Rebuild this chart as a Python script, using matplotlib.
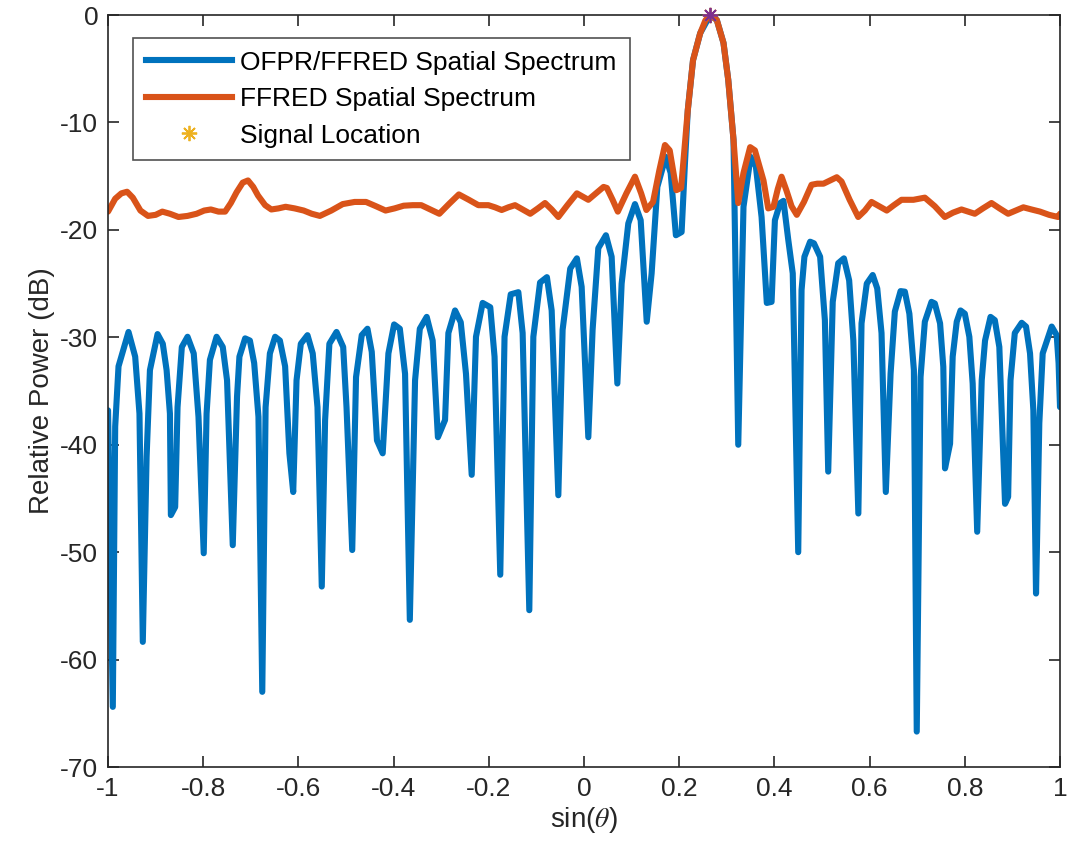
import matplotlib

matplotlib.use("Agg")

import matplotlib.pyplot as plt
from matplotlib.lines import Line2D
import numpy as np

# OFPR/FFRED spatial spectrum (blue)
blue_x = [
    -1.000, -0.990, -0.985, -0.978, -0.957, -0.943, -0.934, -0.927, -0.919, -0.912,
    -0.896, -0.885, -0.877, -0.870, -0.868, -0.859, -0.854, -0.845, -0.833, -0.820,
    -0.810, -0.799, -0.793, -0.786, -0.772, -0.759, -0.750, -0.738, -0.729, -0.724,
    -0.712, -0.702, -0.693, -0.684, -0.676, -0.669, -0.660, -0.649, -0.639, -0.628,
    -0.619, -0.611, -0.604, -0.595, -0.581, -0.570, -0.560, -0.551, -0.544, -0.535,
    -0.520, -0.506, -0.499, -0.487, -0.479, -0.467, -0.455, -0.446, -0.435, -0.423,
    -0.411, -0.399, -0.387, -0.376, -0.366, -0.355, -0.345, -0.3305, -0.318, -0.307,
    -0.292, -0.285, -0.271, -0.259, -0.248, -0.236, -0.227, -0.213, -0.197, -0.188,
    -0.176, -0.167, -0.154, -0.138, -0.129, -0.115, -0.1065, -0.0924, -0.078, -0.068,
    -0.054, -0.045, -0.029, -0.015, -0.005, 0.009, 0.018, 0.030, 0.046, 0.058,
    0.070, 0.079, 0.093, 0.107, 0.119, 0.1317, 0.142, 0.154, 0.1716, 0.182,
    0.193, 0.205, 0.212, 0.218, 0.229, 0.244, 0.265, 0.279, 0.293, 0.303,
    0.314, 0.324, 0.335, 0.350, 0.361, 0.373, 0.384, 0.394, 0.401, 0.412,
    0.419, 0.429, 0.4385, 0.450, 0.457, 0.463, 0.475, 0.483, 0.496, 0.506,
    0.513, 0.5225, 0.534, 0.546, 0.557, 0.5658, 0.5763, 0.583, 0.594, 0.6065,
    0.616, 0.625, 0.634, 0.644, 0.653, 0.665, 0.674, 0.6835, 0.693, 0.699,
    0.707, 0.716, 0.730, 0.737, 0.748, 0.7548, 0.7584, 0.769, 0.7745, 0.783,
    0.791, 0.800, 0.8095, 0.8165, 0.826, 0.8355, 0.8425, 0.854, 0.863, 0.8725,
    0.8845, 0.891, 0.896, 0.905, 0.9195, 0.9286, 0.937, 0.944, 0.9496, 0.9565,
    0.9636, 0.9825, 0.993, 0.997, 1.000,
]
blue_db = [
    -36.8, -64.4, -38.3, -32.7, -29.5, -31.8, -37.1, -58.35, -41.1, -33.05,
    -29.7, -30.6, -33.05, -37.1, -46.55, -45.8, -36.5, -30.9, -29.95, -31.5,
    -37.4, -50.1, -37.1, -32.1, -29.95, -30.9, -34.0, -49.35, -35.5, -31.8,
    -30.1, -30.3, -32.4, -37.4, -63.0, -36.5, -31.5, -29.95, -30.3, -32.7,
    -40.8, -44.4, -34.0, -30.6, -29.8, -31.5, -36.5, -53.2, -37.7, -30.6,
    -29.5, -30.9, -36.5, -49.8, -33.7, -29.8, -29.2, -31.35, -39.6, -40.8,
    -31.5, -28.8, -29.2, -33.4, -56.3, -34.0, -29.2, -28.1, -30.3, -39.3,
    -37.7, -29.6, -27.5, -28.6, -33.4, -42.8, -29.95, -26.8, -27.2, -31.8,
    -52.1, -29.95, -26.0, -25.8, -29.6, -55.4, -29.95, -24.9, -24.4, -27.5,
    -44.7, -29.3, -23.6, -22.65, -25.3, -39.3, -29.3, -21.7, -20.5, -22.5,
    -34.3, -25.0, -19.4, -17.6, -19.1, -28.55, -24.05, -16.0, -13.2, -14.7,
    -20.5, -20.2, -13.8, -8.85, -4.2, -1.7, 0.0, -0.47, -2.6, -6.05,
    -11.6, -40.0, -17.85, -13.2, -14.1, -18.8, -26.8, -26.7, -19.1, -17.5,
    -17.3, -20.9, -24.05, -50.0, -25.6, -22.5, -21.1, -21.25, -22.5, -28.4,
    -42.5, -26.7, -23.1, -22.65, -24.7, -30.3, -46.4, -28.7, -25.0, -24.2,
    -25.45, -29.6, -44.4, -33.4, -27.6, -25.7, -25.75, -27.8, -33.05, -66.7,
    -33.7, -28.55, -26.7, -26.85, -28.7, -32.75, -42.2, -39.9, -31.8, -28.55,
    -27.5, -27.8, -29.95, -34.3, -48.1, -34.0, -30.3, -28.1, -28.4, -30.9,
    -45.5, -44.85, -34.0, -29.6, -28.65, -29.0, -31.5, -36.8, -53.85, -38.0,
    -31.5, -29.0, -29.8, -32.4, -36.5,
]

# FFRED spatial spectrum (orange)
orange_x = [
    -1.000, -0.985, -0.972, -0.960, -0.948, -0.932, -0.916, -0.900, -0.886, -0.870,
    -0.852, -0.833, -0.814, -0.798, -0.784, -0.768, -0.754, -0.742, -0.730, -0.717,
    -0.706, -0.695, -0.685, -0.670, -0.657, -0.642, -0.627, -0.608, -0.589, -0.572,
    -0.555, -0.531, -0.507, -0.482, -0.458, -0.437, -0.417, -0.398, -0.379, -0.360,
    -0.342, -0.323, -0.304, -0.284, -0.263, -0.242, -0.222, -0.201, -0.187, -0.173,
    -0.159, -0.145, -0.129, -0.113, -0.097, -0.082, -0.068, -0.054, -0.035, -0.015,
    -0.003, 0.009, 0.025, 0.041, 0.048, 0.060, 0.071, 0.089, 0.107, 0.120,
    0.131, 0.145, 0.158, 0.170, 0.180, 0.194, 0.204, 0.218, 0.229, 0.244,
    0.255, 0.265, 0.279, 0.293, 0.303, 0.314, 0.324, 0.335, 0.349, 0.359,
    0.368, 0.377, 0.387, 0.398, 0.407, 0.415, 0.425, 0.436, 0.447, 0.462,
    0.478, 0.490, 0.503, 0.517, 0.531, 0.541, 0.558, 0.576, 0.590, 0.604,
    0.620, 0.636, 0.651, 0.667, 0.680, 0.692, 0.704, 0.716, 0.737, 0.758,
    0.775, 0.793, 0.807, 0.821, 0.838, 0.856, 0.873, 0.891, 0.907, 0.923,
    0.940, 0.958, 0.977, 0.996, 1.000,
]
orange_db = [
    -18.3, -17.1, -16.6, -16.45, -17.0, -18.2, -18.7, -18.6, -18.3, -18.5,
    -18.8, -18.7, -18.5, -18.2, -18.1, -18.3, -18.3, -17.5, -16.5, -15.6,
    -15.4, -16.0, -16.8, -17.7, -18.1, -18.0, -17.85, -18.0, -18.2, -18.5,
    -18.7, -18.2, -17.6, -17.4, -17.4, -17.8, -18.2, -18.0, -17.75, -17.7,
    -17.7, -18.1, -18.5, -17.6, -16.7, -17.2, -17.7, -17.7, -17.9, -18.15,
    -17.9, -17.7, -18.1, -18.5, -18.0, -17.5, -18.1, -18.8, -17.7, -16.6,
    -16.9, -17.2, -16.6, -16.0, -16.1, -17.2, -18.3, -16.6, -15.05, -16.6,
    -18.15, -17.4, -14.5, -12.1, -12.6, -16.3, -16.1, -8.85, -4.2, -1.7,
    -0.5, 0.0, -0.47, -2.6, -6.05, -11.6, -17.5, -14.7, -12.3, -12.6,
    -14.0, -15.4, -18.0, -17.85, -16.2, -15.05, -16.3, -17.8, -18.6, -17.4,
    -15.8, -15.7, -15.7, -15.4, -15.1, -15.5, -17.2, -18.8, -18.2, -17.4,
    -17.8, -18.2, -17.7, -17.2, -17.2, -17.2, -17.1, -17.0, -17.8, -18.8,
    -18.4, -18.1, -18.3, -18.5, -18.0, -17.5, -18.0, -18.5, -18.2, -17.9,
    -18.1, -18.3, -18.6, -18.8, -18.5,
]

signal_x = [0.265]
signal_db = [0.0]

x_ticks = [-1, -0.8, -0.6, -0.4, -0.2, 0, 0.2, 0.4, 0.6, 0.8, 1]
x_tick_labels = ["-1", "-0.8", "-0.6", "-0.4", "-0.2", "0", "0.2", "0.4", "0.6", "0.8", "1"]
y_ticks = [-70, -60, -50, -40, -30, -20, -10, 0]

BLUE = "#0072BD"
ORANGE = "#D95319"
YELLOW = "#EDB120"
PURPLE = "#7E2F8E"
AXIS_COLOR = "#262626"

plt.rcParams["font.family"] = ["Liberation Sans", "DejaVu Sans"]
plt.rcParams["axes.unicode_minus"] = False
plt.rcParams["mathtext.fontset"] = "stix"

asterisk = (8, 2, 0)
line_kw = dict(linewidth=4.4, solid_joinstyle="round", solid_capstyle="round")

fig = plt.figure(figsize=(10.73, 8.63), dpi=100)
ax = fig.add_axes([0.1007, 0.1112, 0.8872, 0.8714])

ax.plot(blue_x, blue_db, color=BLUE, label="OFPR/FFRED Spatial Spectrum", **line_kw)
ax.plot(orange_x, orange_db, color=ORANGE, label="FFRED Spatial Spectrum", **line_kw)
ax.plot(signal_x, signal_db, linestyle="none", marker=asterisk, markersize=11,
        markeredgewidth=1.3, color=YELLOW, clip_on=False, zorder=5,
        label="Signal Location")
ax.plot(signal_x, signal_db, linestyle="none", marker=asterisk, markersize=11,
        markeredgewidth=1.3, color=PURPLE, clip_on=False, zorder=6)

ax.set_xlim(-1, 1)
ax.set_ylim(-70, 0)
ax.set_xticks(x_ticks)
ax.set_xticklabels(x_tick_labels)
ax.set_yticks(y_ticks)
ax.tick_params(direction="in", length=8, width=1.2, colors=AXIS_COLOR,
               labelsize=19, top=True, right=True)
ax.tick_params(axis="x", pad=7)
ax.tick_params(axis="y", pad=7)
for spine in ax.spines.values():
    spine.set_color(AXIS_COLOR)
    spine.set_linewidth(1.2)

ax.set_xlabel(r"sin($\theta$)", fontsize=20, color=AXIS_COLOR, labelpad=3)
ax.set_ylabel("Relative Power (dB)", fontsize=20, color=AXIS_COLOR, labelpad=4)

handles = [
    Line2D([], [], color=BLUE, linewidth=4.4),
    Line2D([], [], color=ORANGE, linewidth=4.4),
    Line2D([], [], linestyle="none", marker=asterisk, markersize=11,
           markeredgewidth=1.3, color=YELLOW),
]
labels = ["OFPR/FFRED Spatial Spectrum", "FFRED Spatial Spectrum", "Signal Location"]
legend = ax.legend(handles, labels, loc="upper left", bbox_to_anchor=(0.0263, 0.9694),
                   fontsize=19, frameon=True, fancybox=False, handlelength=3.25,
                   handletextpad=0.34, labelspacing=0.47, borderpad=0.48,
                   borderaxespad=0.0)
legend.get_frame().set_edgecolor(AXIS_COLOR)
legend.get_frame().set_linewidth(1.2)

fig.savefig("out.png", dpi=100)
